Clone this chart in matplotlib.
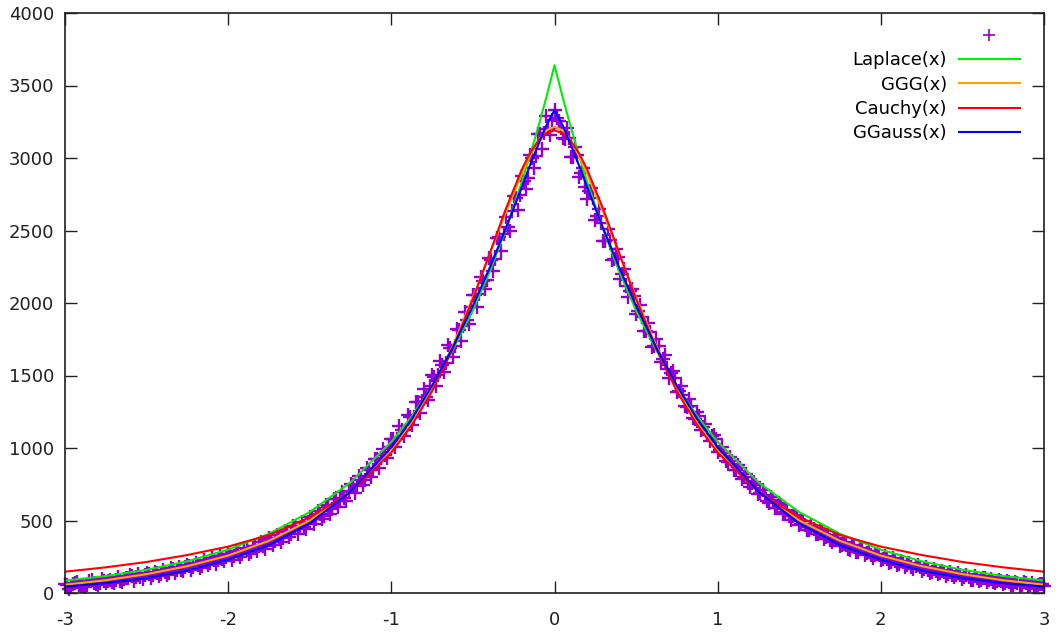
import matplotlib
matplotlib.use('Agg')
import matplotlib.pyplot as plt
import numpy as np

plt.rcParams['font.family'] = ['DejaVu Sans']
plt.rcParams['axes.unicode_minus'] = False

# histogram bin centres: main grid (-3 .. 3, step 0.025) and the half-step grid between
data_x = np.linspace(-3, 3, 241)
data_x_mid = np.linspace(-2.9875, 2.9875, 240)

# counts per bin on the main grid (left half / centre / right half)
counts_left = [
    65, 31, 60, 79, 48, 40, 84, 70, 52, 97, 66, 90, 71, 110, 79, 101, 122, 84, 129, 96,
    140, 102, 148, 117, 158, 121, 170, 138, 181, 149, 196, 160, 210, 171, 225, 190, 239, 198, 256, 219,
    272,
    229, 291, 250, 313, 266, 327, 290, 355, 306, 377, 330, 401, 352, 431, 384, 459, 410, 492, 440, 526,
    474, 568, 507, 604, 545, 651, 590, 699, 636, 752, 690, 806, 742, 864, 800, 925, 862, 993, 930, 1062,
    1004, 1150, 1080, 1231, 1158, 1318, 1243, 1406, 1334, 1502, 1428, 1601, 1526, 1707, 1631, 1818, 1740, 1935, 1858, 2057,
    1970, 2180, 2095, 2312, 2222, 2450, 2356, 2590, 2496, 2735, 2640, 2878, 2785, 3020, 2930, 3165, 3060, 3290, 3160,
]
counts_centre = [3330]
counts_right = [
    3255, 3140, 3210, 3010, 3075, 2870, 2930, 2720, 2795, 2575, 2650, 2430, 2510, 2300, 2370, 2165, 2235, 2040, 2100,
    1925, 1985, 1810, 1865, 1700, 1750, 1590, 1640, 1480, 1530, 1385, 1430, 1290, 1335, 1205, 1245, 1125, 1165, 1050, 1090,
    975, 1010, 910, 940, 845, 880, 785, 818, 730, 765, 680, 712, 632, 662, 586, 618, 545, 575, 505, 535,
    468, 498, 436, 463, 404, 432, 375, 402, 350, 378, 325, 352, 302, 330, 282, 310, 262, 290, 243, 270,
    226, 254, 210, 238, 195, 222, 180, 208, 166, 193, 154, 180, 140, 168, 128, 155, 118, 145, 107, 135,
    97, 124, 90, 115, 82, 106, 74, 99, 67, 92, 61, 85, 56, 79, 50, 73, 46, 68, 41, 63,
    48,
]
counts = counts_left + counts_centre + counts_right

# counts on the half-step grid
counts_mid = [
    56, 42, 72, 54, 50, 55, 88, 61, 70, 86, 86, 77, 93, 85, 96, 105, 114, 107, 108, 122,
    129, 121, 135, 128, 146, 139, 165, 160, 160, 177, 186, 181, 193, 188, 214, 208, 230, 227, 233, 250,
    265, 254, 275, 266, 300, 285, 327, 323, 323, 348, 368, 360, 381, 376, 418, 410, 453, 451, 458, 489,
    521, 512, 544, 532, 590, 580, 648, 645, 656, 703, 742, 739, 780, 779, 847, 845, 921, 928, 950, 1005,
    1061, 1065, 1123, 1124, 1215, 1214, 1317, 1325, 1354, 1430, 1493, 1503, 1572, 1585, 1689, 1701, 1815, 1838, 1881, 1970,
    2052, 2059, 2149, 2160, 2294, 2303, 2453, 2473, 2521, 2632, 2726, 2743, 2843, 2859, 3002, 3015, 3163, 3175, 3203, 3261,
    3277, 3209, 3131, 3137, 3010, 3023, 2900, 2803, 2774, 2723, 2597, 2551, 2426, 2432, 2302, 2318, 2200, 2116, 2086, 2051,
    1943, 1906, 1806, 1803, 1701, 1706, 1615, 1544, 1517, 1486, 1396, 1368, 1281, 1290, 1201, 1221, 1145, 1092, 1082, 1061,
    984, 966, 901, 908, 845, 860, 802, 762, 757, 744, 687, 678, 623, 639, 584, 609, 560, 528, 529, 523,
    477, 471, 434, 444, 406, 422, 389, 368, 370, 366, 333, 331, 300, 316, 284, 304, 276, 259, 263, 262,
    236, 234, 214, 223, 202, 212, 194, 182, 184, 182, 163, 162, 144, 154, 135, 148, 132, 121, 125, 124,
    107, 109, 93, 105, 87, 101, 87, 78, 84, 85, 69, 73, 58, 71, 55, 71, 57, 50, 56, 64,
]

# fitted curves, sampled at these x positions
x_fit = [-3.0, -2.75, -2.5, -2.25, -2.0, -1.75, -1.5, -1.25, -1.0, -0.875, -0.75, -0.625, -0.5,
         -0.4, -0.3, -0.2, -0.15, -0.1, -0.05, 0.0, 0.05, 0.1, 0.15, 0.2, 0.3, 0.4,
         0.5, 0.625, 0.75, 0.875, 1.0, 1.25, 1.5, 1.75, 2.0, 2.25, 2.5, 2.75, 3.0]
laplace = [86, 117, 160, 219, 299, 408, 558, 763, 1043, 1217, 1426, 1672, 1948, 2208, 2502, 2835, 3017,
           3212, 3419, 3640, 3419, 3212, 3017, 2835, 2502, 2208, 1948, 1672, 1426, 1217, 1043, 763,
           558, 408, 299, 219, 160, 117, 86]
ggg = [57, 88, 130, 185, 258, 360, 500, 700, 980, 1170, 1410, 1700, 2040, 2330, 2620, 2890, 3015,
       3120, 3190, 3216, 3190, 3120, 3015, 2890, 2620, 2330, 2040, 1700, 1410, 1170, 980, 700,
       500, 360, 258, 185, 130, 88, 57]
cauchy = [147, 177, 214, 262, 320, 400, 522, 695, 968, 1157, 1392, 1682, 2027, 2333, 2644, 2922, 3033,
          3118, 3172, 3190, 3172, 3118, 3033, 2922, 2644, 2333, 2027, 1682, 1392, 1157, 968, 695,
          522, 400, 320, 262, 214, 177, 147]
ggauss = [44, 68, 103, 155, 230, 330, 480, 700, 1005, 1200, 1430, 1690, 1980, 2235, 2510, 2800, 2950,
          3090, 3225, 3330, 3225, 3090, 2950, 2800, 2510, 2235, 1980, 1690, 1430, 1200, 1005, 700,
          480, 330, 230, 155, 103, 68, 44]

fig = plt.figure(figsize=(10.6, 6.42), dpi=100)
ax = fig.add_axes([65 / 1060, 49 / 642, 979 / 1060, 580 / 642])

# data points (gnuplot style "+")
pts = dict(color='#9400d3', ms=10, mew=1.7, clip_on=False, linestyle='none')
ax.plot(data_x, counts, '+', label=' ', **pts)
ax.plot(data_x_mid, counts_mid, '+', **pts)
# fits
ax.plot(x_fit, laplace, color='#00ee00', lw=1.5, label='Laplace(x)')
ax.plot(x_fit, ggg, color='#ffa500', lw=1.5, label='GGG(x)')
ax.plot(x_fit, cauchy, color='#ff0000', lw=1.5, label='Cauchy(x)')
ax.plot(x_fit, ggauss, color='#0000ff', lw=1.5, label='GGauss(x)')

ax.set_xlim(-3, 3)
ax.set_ylim(0, 4000)
ax.set_xticks(range(-3, 4))
ax.set_yticks(range(0, 4001, 500))
ax.tick_params(direction='in', length=8.5, width=1.0, top=True, right=True,
               labelsize=13, colors='#202020')
ax.tick_params(axis='x', pad=13)
ax.tick_params(axis='y', pad=8)
for s in ax.spines.values():
    s.set_linewidth(1.2)
    s.set_color('#202020')

leg = ax.legend(loc='upper right', bbox_to_anchor=((1020 - 65) / 979, (593 - 27) / 580),
                frameon=False, markerfirst=False, fontsize=13, numpoints=1,
                handlelength=3.4, handletextpad=0.65, labelspacing=0.35,
                borderpad=0, borderaxespad=0)
# legend "+" a little smaller than the plotted points
leg.legend_handles[0].set_markersize(8)
leg.legend_handles[0].set_markeredgewidth(1.2)

fig.savefig('out.png', dpi=100)
